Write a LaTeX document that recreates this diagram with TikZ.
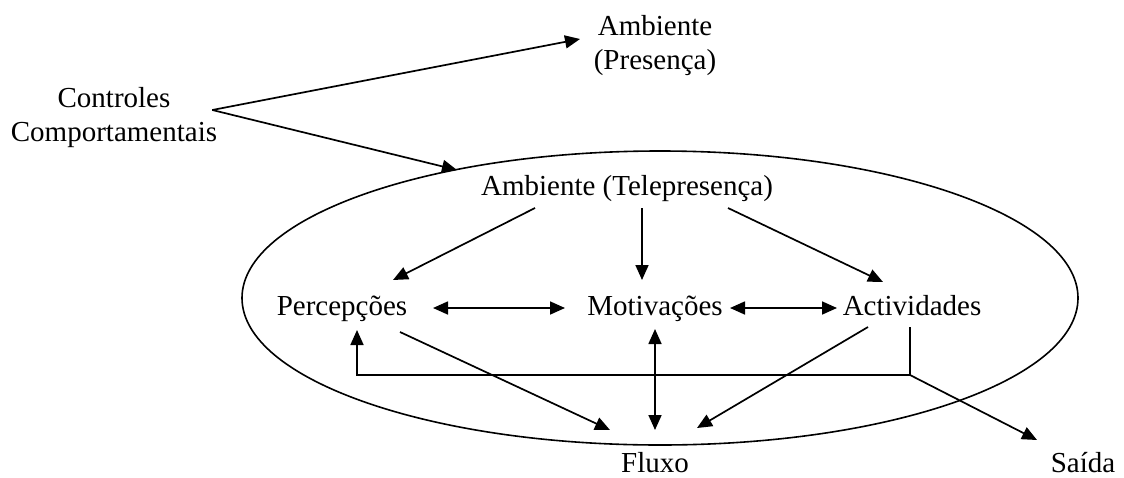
\documentclass[tikz,border=0pt]{standalone}
\usepackage{fontspec}
\setmainfont{Liberation Serif}
\usepackage{tikz}
\usetikzlibrary{arrows.meta,calc}
\tikzset{
  term/.style={
    inner sep=0pt,
    align=center,
    font=\fontsize{29}{34}\selectfont
  },
  arrow/.style={
    -{Triangle[length=15pt,width=13pt]},
    line width=1.7pt
  },
  twoway/.style={
    {Triangle[length=15pt,width=13pt]}-{Triangle[length=15pt,width=13pt]},
    line width=1.7pt
  }
}

\begin{document}
\begin{tikzpicture}[x=1pt,y=-1pt]
\useasboundingbox (0,0) rectangle (1124,477);
\draw[line width=1.6pt] (660,298) ellipse [x radius=418pt, y radius=147pt];
\node[term] (presence) at (655,46) {Ambiente\\(Presença)};
\node[term] (controls) at (114,118) {Controles\\Comportamentais};
\node[term, anchor=base] (telepresence) at (627,195) {Ambiente (Telepresença)};
\node[term, anchor=base] (perceptions) at (342,315) {Percepções};
\node[term, anchor=base] (motivations) at (655,315) {Motivações};
\node[term, anchor=base] (activities) at (912,315) {Actividades};
\node[term, anchor=base] (flow) at (655,472) {Fluxo};
\node[term, anchor=base] (exit) at (1083,472) {Saída};
\coordinate (fork) at ($(controls.east)+(-5,-8)$);
\draw[arrow] (fork) -- ($(presence.center)+(-75,-7)$);
\draw[arrow] (fork) -- ($(telepresence.base)+(-170,-25)$);
\draw[arrow] ($(telepresence.base)+(-92,13)$) -- ($(perceptions.base)+(51,-35)$);
\draw[arrow] ($(telepresence.base)+(15,13)$) -- ($(motivations.base)+(-13,-35)$);
\draw[arrow] ($(telepresence.base)+(101,13)$) -- ($(activities.base)+(-29,-33)$);
\draw[twoway] ($(perceptions.base)+(91,-7)$) -- ($(motivations.base)+(-90,-7)$);
\draw[twoway] ($(motivations.base)+(75,-7)$) -- ($(activities.base)+(-75,-7)$);
\draw[arrow] ($(perceptions.base)+(58,17)$) -- ($(flow.base)+(-45,-42)$);
\draw[twoway] ($(motivations.base)+(0,14)$) -- ($(flow.base)+(0,-42)$);
\draw[arrow] ($(activities.base)+(-44,12)$) -- ($(flow.base)+(42,-44)$);
\coordinate (split) at ($(activities.base)+(-2,60)$);
\draw[arrow] ($(activities.base)+(-2,12)$) -- (split) -| ($(perceptions.base)+(15,15)$);
\draw[arrow] (split) -- ($(exit.base)+(-46,-32)$);
\end{tikzpicture}
\end{document}
